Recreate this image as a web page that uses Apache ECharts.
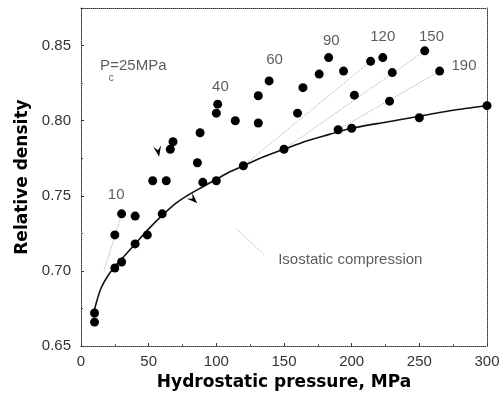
<!DOCTYPE html>
<html><head><meta charset="utf-8">
<script src="https://cdn.jsdelivr.net/npm/echarts@6/dist/echarts.min.js"></script>
<style>html,body{margin:0;padding:0;background:#fff}#c{width:503px;height:396px}</style>
</head><body><div id="c"></div>
<script>
// Isostatic compression measured points
const isoP = [10, 10, 25, 30, 40, 60, 90, 100, 120, 150, 190, 200, 250, 300];
const isoD = [0.672, 0.666, 0.702, 0.706, 0.718, 0.738, 0.759, 0.760, 0.770, 0.781, 0.794, 0.795, 0.802, 0.810];
// Isostatic fitted curve
const curveP = [9, 12, 15, 20, 25, 30, 40, 50, 60, 70, 80, 90, 100, 110, 120, 135, 150, 165, 180, 200, 225, 250, 275, 300];
const curveD = [0.671, 0.681, 0.689, 0.697, 0.703, 0.708, 0.718, 0.728, 0.737, 0.745, 0.751, 0.756, 0.761, 0.766, 0.770, 0.776, 0.781, 0.786, 0.790, 0.795, 0.799, 0.803, 0.807, 0.810];
// Triaxial (confined) points
const triP = [25, 30, 40, 49, 53, 63, 66, 68, 86, 88, 100, 101, 114, 131, 131, 139, 160, 164, 176, 183, 194, 202, 214, 223, 230, 228, 254, 265];
const triD = [0.724, 0.738, 0.7365, 0.724, 0.760, 0.760, 0.781, 0.786, 0.772, 0.792, 0.805, 0.811, 0.800, 0.7985, 0.8166, 0.8265, 0.805, 0.822, 0.831, 0.842, 0.833, 0.817, 0.8395, 0.842, 0.832, 0.813, 0.8465, 0.833];
// Dotted guide lines
const g10P = [17, 30], g10D = [0.700, 0.738];
const g120P = [120, 214], g120D = [0.770, 0.8395];
const g150P = [150, 254], g150D = [0.781, 0.8465];
const g190P = [190, 265], g190D = [0.794, 0.833];
const leaderP = [115, 135], leaderD = [0.728, 0.711];
// Confining pressure labels
const pcText = ['10', '40', '60', '90', '120', '150', '190'];
const pcP = [26, 103, 143, 185, 223, 259, 283];
const pcD = [0.7504, 0.8228, 0.8405, 0.8534, 0.856, 0.8558, 0.8367];
// Pc annotation pieces
const pcNoteText = ['P', 'c', '=25MPa'];
const pcNoteP = [14, 20.5, 21.6];
const pcNoteD = [0.8365, 0.8285, 0.8365];
const pcNoteSize = [15, 10, 15];
// Arrow marks
const arrowP = [57, 83];
const arrowD = [0.7796, 0.7476];
const arrowRot = [10, 45];
// Axis ticks
const xTicks = [0, 50, 100, 150, 200, 250, 300];
const yTicks = [0.65, 0.70, 0.75, 0.80, 0.85];

const zip = (a, b) => a.map((v, i) => [v, b[i]]);
const chart = echarts.init(document.getElementById('c'), null, {renderer: 'canvas'});
const font = 'Liberation Sans, Arial, sans-serif';
const tickFont = {fontFamily: font, fontSize: 15, color: '#333'};
const frame = {lineStyle: {color: '#333', width: 1, type: 'dotted'}};
const guide = (p, d) => ({
  type: 'line', data: zip(p, d), symbol: 'none', silent: true,
  lineStyle: {color: '#aaa', width: 1, type: 'dotted'}, z: 1
});
const option = {
  animation: false,
  grid: {left: 81, top: 8, width: 406, height: 339, containLabel: false},
  xAxis: [{
    type: 'value', min: xTicks[0], max: xTicks[xTicks.length - 1], interval: 50,
    name: 'Hydrostatic pressure, MPa', nameLocation: 'middle', nameGap: 24,
    nameTextStyle: {fontFamily: 'DejaVu Sans', fontWeight: 'bold', fontSize: 17, color: '#000'},
    axisLine: frame, axisTick: {inside: true, length: 3, lineStyle: {color: '#333'}},
    minorTick: {show: true, splitNumber: 2, length: 2, lineStyle: {color: '#555'}},
    splitLine: {show: false}, axisLabel: Object.assign({margin: 8}, tickFont)
  }, {
    type: 'value', position: 'top', min: 0, max: 300,
    axisLine: Object.assign({show: true, onZero: false}, frame), axisTick: {show: false},
    axisLabel: {show: false}, splitLine: {show: false}
  }],
  yAxis: [{
    type: 'value', min: yTicks[0], max: 0.875, interval: 0.05,
    name: 'Relative density', nameLocation: 'middle', nameGap: 46,
    nameTextStyle: {fontFamily: 'DejaVu Sans', fontWeight: 'bold', fontSize: 17, color: '#000'},
    axisLine: frame, axisTick: {inside: true, length: 3, lineStyle: {color: '#333'}},
    minorTick: {show: true, splitNumber: 2, length: 2, lineStyle: {color: '#555'}},
    splitLine: {show: false},
    axisLabel: Object.assign({margin: 10, showMaxLabel: false,
      formatter: v => yTicks.some(t => Math.abs(t - v) < 1e-6) ? v.toFixed(2) : ''}, tickFont)
  }, {
    type: 'value', position: 'right', min: 0.65, max: 0.875,
    axisLine: Object.assign({show: true, onZero: false}, frame), axisTick: {show: false},
    axisLabel: {show: false}, splitLine: {show: false}
  }],
  series: [
    guide(g10P, g10D), guide(g120P, g120D), guide(g150P, g150D), guide(g190P, g190D),
    guide(leaderP, leaderD),
    {
      type: 'line', data: zip(curveP, curveD), symbol: 'none', smooth: 0.2,
      lineStyle: {color: '#111', width: 1.6}, z: 2, silent: true
    },
    {
      type: 'scatter', data: zip(isoP, isoD), symbol: 'circle', symbolSize: 9,
      itemStyle: {color: '#000', opacity: 1}, z: 3, silent: true
    },
    {
      type: 'scatter', data: zip(triP, triD), symbol: 'circle', symbolSize: 9,
      itemStyle: {color: '#000', opacity: 1}, z: 3, silent: true
    },
    {
      type: 'scatter', silent: true, z: 3,
      data: arrowP.map((p, i) => ({value: [p, arrowD[i]], symbolRotate: arrowRot[i]})),
      symbol: 'path://M0,0 L5,10 L10,0 L5,4 Z', symbolSize: [8, 11],
      itemStyle: {color: '#000', opacity: 1}
    },
    {
      type: 'scatter', symbolSize: 0, silent: true, z: 4,
      data: pcText.map((t, i) => [pcP[i], pcD[i], t]),
      label: {show: true, position: 'inside', formatter: p => p.value[2],
        fontFamily: font, fontSize: 15, color: '#333'}
    },
    {
      type: 'scatter', symbolSize: 0, silent: true, z: 4,
      data: [[199, 0.7077, 'Isostatic compression']],
      label: {show: true, position: 'inside', formatter: p => p.value[2],
        fontFamily: font, fontSize: 15, color: '#333'}
    },
    {
      type: 'scatter', symbolSize: 0, silent: true, z: 4,
      data: pcNoteText.map((t, i) => ({value: [pcNoteP[i], pcNoteD[i], t], label: {fontSize: pcNoteSize[i]}})),
      label: {show: true, position: 'right', distance: 0,
        formatter: p => p.value[2],
        fontFamily: font, fontSize: 15, color: '#333'}
    }
  ]
};
chart.setOption(option);
</script>
</body></html>
